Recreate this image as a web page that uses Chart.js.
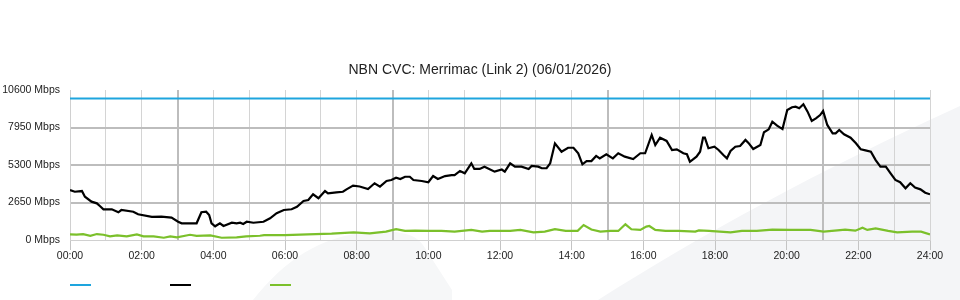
<!DOCTYPE html>
<html>
<head>
<meta charset="utf-8">
<script src="https://cdn.jsdelivr.net/npm/chart.js@4/dist/chart.umd.min.js"></script>
<style>
    html, body { margin: 0; padding: 0; background: #fff; }
    #wrap { width: 960px; height: 300px; }
</style>
</head>
<body>
<div id="wrap"><canvas id="cvc"></canvas></div>
<script>
const chartTitle = "NBN CVC: Merrimac (Link 2) (06/01/2026)";
const yTicks = [0, 2650, 5300, 7950, 10600];

const capacityTimes = ["00:00", "24:00"];
const capacityMbps = [10000, 10000];

const downTimes = [
    "00:00", "00:08", "00:20", "00:25", "00:36", "00:45", "00:50", "00:56", "01:10", "01:21",
    "01:26", "01:46", "01:54", "02:17", "02:33", "02:50", "03:01", "03:07", "03:32", "03:40",
    "03:48", "03:53", "03:57", "04:03", "04:11", "04:17", "04:31", "04:39", "04:45", "04:50",
    "04:56", "05:07", "05:24", "05:35", "05:46", "05:58", "06:11", "06:20", "06:31", "06:39",
    "06:47", "06:56", "07:07", "07:12", "07:26", "07:37", "07:43", "07:54", "08:05", "08:19",
    "08:30", "08:39", "08:50", "08:58", "09:06", "09:13", "09:21", "09:29", "09:35", "09:49",
    "10:00", "10:08", "10:16", "10:28", "10:39", "10:44", "10:53", "11:01", "11:12", "11:17",
    "11:26", "11:34", "11:51", "12:03", "12:08", "12:17", "12:25", "12:36", "12:48", "12:53",
    "13:04", "13:10", "13:18", "13:24", "13:32", "13:43", "13:54", "14:03", "14:11", "14:18",
    "14:25", "14:33", "14:41", "14:47", "14:58", "15:09", "15:18", "15:29", "15:43", "15:55",
    "16:03", "16:14", "16:20", "16:28", "16:39", "16:48", "16:56", "17:07", "17:13", "17:18",
    "17:29", "17:35", "17:40", "17:43", "17:49", "17:59", "18:06", "18:14", "18:20", "18:26",
    "18:34", "18:42", "18:51", "18:56", "19:04", "19:16", "19:22", "19:30", "19:36", "19:44",
    "19:53", "20:01", "20:09", "20:15", "20:21", "20:28", "20:35", "20:42", "20:49", "20:56",
    "21:01", "21:08", "21:17", "21:22", "21:28", "21:36", "21:47", "21:56", "22:04", "22:12",
    "22:21", "22:29", "22:37", "22:46", "22:54", "23:02", "23:10", "23:19", "23:27", "23:35",
    "23:44", "23:52", "24:00"
];
const downMbps = [
    3530, 3410, 3460, 3060, 2710, 2590, 2400, 2170, 2170, 1960,
    2120, 2000, 1820, 1630, 1650, 1580, 1290, 1180, 1180, 1960,
    2000, 1770, 1180, 970, 1180, 990, 1220, 1180, 1220, 1130,
    1290, 1220, 1290, 1530, 1890, 2120, 2170, 2350, 2760, 2830,
    3230, 2950, 3460, 3300, 3370, 3410, 3580, 3840, 3780, 3600,
    4010, 3770, 4170, 4240, 4400, 4310, 4470, 4470, 4240, 4170,
    4080, 4520, 4310, 4520, 4590, 4590, 4880, 4710, 5420, 5020,
    5020, 5180, 4830, 4980, 4830, 5420, 5180, 5180, 5020, 5230,
    5180, 5070, 5070, 5420, 6830, 6240, 6520, 6520, 6130, 5350,
    5580, 5580, 5940, 5770, 6060, 5770, 6130, 5890, 5720, 6130,
    6130, 7420, 6710, 7230, 7000, 6360, 6410, 6130, 6060, 5530,
    5890, 6240, 7230, 7230, 6480, 6590, 6360, 6010, 5770, 6290,
    6590, 6640, 7070, 6860, 6430, 6710, 7610, 7820, 8360, 8080,
    7840, 9190, 9380, 9420, 9310, 9590, 9070, 8410, 8600, 8830,
    9120, 8130, 7540, 7540, 7770, 7470, 7230, 6830, 6410, 6330,
    6240, 5650, 5180, 5180, 4710, 4240, 4080, 3650, 4010, 3700,
    3580, 3340, 3230
];

const upTimes = [
    "00:00", "00:11", "00:22", "00:34", "00:45", "00:56", "01:07", "01:19", "01:35", "01:52",
    "02:03", "02:20", "02:37", "02:48", "02:59", "03:21", "03:32", "03:55", "04:14", "04:39",
    "04:55", "05:18", "05:25", "06:00", "06:38", "07:18", "07:55", "08:22", "08:49", "09:06",
    "09:21", "09:38", "10:00", "10:22", "10:44", "11:12", "11:30", "11:43", "12:00", "12:17",
    "12:34", "12:56", "13:15", "13:32", "13:50", "14:10", "14:20", "14:33", "14:48", "15:05",
    "15:18", "15:30", "15:40", "15:55", "16:05", "16:10", "16:20", "16:37", "16:59", "17:27",
    "17:33", "17:50", "18:26", "18:45", "19:10", "19:36", "20:06", "20:20", "20:40", "21:02",
    "21:25", "21:38", "21:55", "22:07", "22:15", "22:29", "22:50", "23:05", "23:30", "23:45",
    "24:00"
];
const upMbps = [
    400, 380, 410, 300, 420, 370, 260, 330, 260, 400,
    260, 260, 160, 260, 190, 370, 290, 320, 160, 180,
    260, 300, 350, 350, 400, 450, 540, 470, 590, 760,
    640, 660, 640, 640, 590, 710, 590, 640, 640, 640,
    710, 540, 590, 760, 640, 650, 1060, 740, 590, 640,
    640, 1110, 760, 710, 950, 990, 710, 640, 640, 590,
    680, 640, 540, 640, 640, 730, 710, 710, 710, 590,
    680, 730, 660, 870, 710, 820, 640, 540, 590, 590,
    400
];

function toHours(t) {
    const [h, m] = t.split(":").map(Number);
    return h + m / 60;
}

function pairUp(times, values) {
    return times.map((t, i) => ({ x: toHours(t), y: values[i] }));
}

const fontFamily = "'Liberation Sans', Arial, sans-serif";

// faint background shapes behind the plot
const backdrop = {
    id: "backdrop",
    beforeDraw(chart) {
        const c = chart.ctx;
        c.save();
        c.fillStyle = "#f4f5f7";
        c.beginPath();
        c.moveTo(598, 300);
        c.bezierCurveTo(700, 235, 820, 170, 960, 106);
        c.lineTo(960, 300);
        c.closePath();
        c.fill();
        c.fillStyle = "#f6f7f8";
        c.beginPath();
        c.moveTo(253, 300);
        c.bezierCurveTo(285, 260, 320, 236, 370, 232);
        c.bezierCurveTo(405, 230, 418, 236, 425, 248);
        c.lineTo(452, 290);
        c.lineTo(452, 300);
        c.closePath();
        c.fill();
        c.restore();
    }
};

// legend with swatches only, no text
const swatches = {
    id: "swatches",
    afterDraw(chart) {
        const c = chart.ctx;
        c.save();
        chart.data.datasets.forEach((ds, i) => {
            const x = 70 + i * 100;
            c.strokeStyle = ds.borderColor;
            c.lineWidth = 2;
            c.beginPath();
            c.moveTo(x, 285);
            c.lineTo(x + 21, 285);
            c.stroke();
        });
        c.restore();
    }
};

new Chart(document.getElementById("cvc").getContext("2d"), {
    type: "line",
    data: {
        datasets: [
            {
                label: "Capacity",
                data: pairUp(capacityTimes, capacityMbps),
                borderColor: "#1ea5de",
                borderWidth: 2,
                pointRadius: 0,
                tension: 0
            },
            {
                label: "Download",
                data: pairUp(downTimes, downMbps),
                borderColor: "#000000",
                borderWidth: 2.2,
                pointRadius: 0,
                tension: 0
            },
            {
                label: "Upload",
                data: pairUp(upTimes, upMbps),
                borderColor: "#7bc02b",
                borderWidth: 2.2,
                pointRadius: 0,
                tension: 0
            }
        ]
    },
    options: {
        responsive: true,
        maintainAspectRatio: false,
        animation: false,
        layout: { padding: 0 },
        plugins: {
            legend: { display: false },
            tooltip: { enabled: false },
            title: {
                display: true,
                text: chartTitle,
                color: "#222",
                font: { family: fontFamily, size: 14, weight: "normal", lineHeight: 1.2 },
                padding: { top: 62, bottom: 11.2 }
            }
        },
        scales: {
            x: {
                type: "linear",
                min: 0,
                max: 24,
                afterFit: s => { s.height = 60; },
                ticks: {
                    stepSize: 1,
                    autoSkip: false,
                    maxRotation: 0,
                    padding: 0,
                    color: "#222",
                    font: { family: fontFamily, size: 10.5 },
                    callback: v => v % 2 === 0 ? String(v).padStart(2, "0") + ":00" : ""
                },
                grid: {
                    color: ctx => ctx.tick && ctx.tick.value % 6 === 3 ? "#bdbdbd" : "#d4d4d4",
                    lineWidth: ctx => ctx.tick && ctx.tick.value % 6 === 3 ? 2 : 1,
                    tickLength: 10,
                    tickColor: ctx => ctx.tick && ctx.tick.value % 2 === 0 ? "#c4c4c4" : "rgba(0,0,0,0)",
                    tickWidth: 1
                },
                border: { color: "#d0d0d0" }
            },
            y: {
                min: 0,
                max: 10600,
                afterFit: s => { s.width = 70; },
                ticks: {
                    stepSize: 2650,
                    padding: 10,
                    color: "#222",
                    font: { family: fontFamily, size: 10.5 },
                    callback: v => yTicks.includes(v) ? v + " Mbps" : ""
                },
                grid: {
                    drawTicks: false,
                    color: ctx => {
                        const v = ctx.tick && ctx.tick.value;
                        if (v === 10600) return "rgba(0,0,0,0)";
                        if (v === 0) return "#d0d0d0";
                        return "#bdbdbd";
                    },
                    lineWidth: ctx => ctx.tick && ctx.tick.value > 0 && ctx.tick.value < 10600 ? 2 : 1
                },
                border: { color: "#d0d0d0" }
            },
            // empty right-hand gutter so the title stays centred on the whole canvas
            gutter: {
                position: "right",
                min: 0,
                max: 1,
                afterFit: s => { s.width = 30; },
                ticks: { display: false },
                grid: { display: false, drawTicks: false },
                border: { display: false }
            }
        }
    },
    plugins: [backdrop, swatches]
});
</script>
</body>
</html>
